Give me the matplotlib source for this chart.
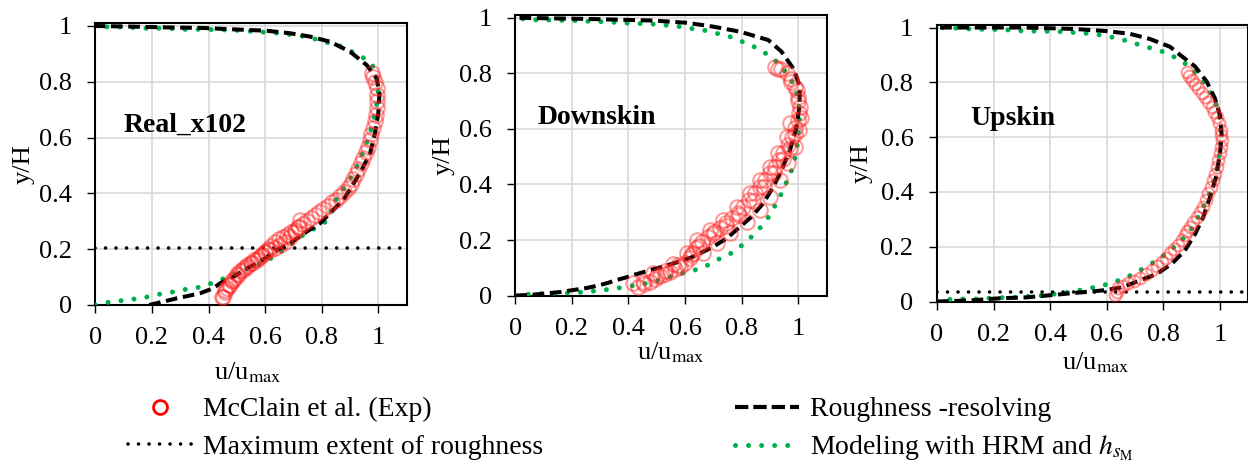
import numpy as np
import matplotlib.pyplot as plt
from matplotlib.lines import Line2D
from matplotlib import rcParams
rcParams['font.family'] = ['Liberation Serif', 'DejaVu Serif']
rcParams['mathtext.fontset'] = 'stix'

# ---- data (x = u/umax, y = y/H) ----
# Real_x102
exp1_x = [0.452, 0.458, 0.466, 0.474, 0.482, 0.492, 0.502, 0.511, 0.525, 0.537, 0.549, 0.562,
          0.574, 0.586, 0.598, 0.610, 0.622, 0.636, 0.650, 0.664, 0.678, 0.692, 0.706, 0.720,
          0.734, 0.748, 0.762, 0.776, 0.790, 0.806, 0.822, 0.838, 0.852, 0.866, 0.880, 0.892,
          0.902, 0.912, 0.921, 0.930, 0.939, 0.947, 0.955, 0.962, 0.969, 0.975, 0.981, 0.987,
          0.992, 0.995, 0.997, 0.997, 0.995, 0.990, 0.983, 0.976,
          0.447, 0.458, 0.476, 0.488, 0.505, 0.523, 0.535, 0.553, 0.570, 0.588, 0.600, 0.617,
          0.635, 0.653, 0.670, 0.688, 0.706, 0.717, 0.723]
exp1_y = [0.030, 0.045, 0.060, 0.072, 0.085, 0.098, 0.110, 0.121, 0.134, 0.143, 0.152, 0.160,
          0.168, 0.177, 0.189, 0.201, 0.213, 0.225, 0.236, 0.245, 0.252, 0.260, 0.269, 0.280,
          0.292, 0.302, 0.312, 0.323, 0.335, 0.345, 0.356, 0.368, 0.378, 0.390, 0.404, 0.418,
          0.434, 0.452, 0.470, 0.488, 0.508, 0.528, 0.548, 0.568, 0.590, 0.612, 0.634, 0.658,
          0.682, 0.706, 0.730, 0.754, 0.778, 0.800, 0.818, 0.832,
          0.030, 0.054, 0.072, 0.090, 0.108, 0.125, 0.137, 0.149, 0.161, 0.179, 0.191, 0.197,
          0.203, 0.215, 0.227, 0.245, 0.263, 0.281, 0.305]
res1_x = [0.190, 0.240, 0.288, 0.330, 0.370, 0.417, 0.441, 0.465, 0.488, 0.535, 0.582, 0.641,
          0.688, 0.747, 0.794, 0.841, 0.876, 0.906, 0.941, 0.971, 0.988, 1.000, 1.004, 0.994,
          0.959, 0.900, 0.829, 0.759, 0.688, 0.606, 0.488, 0.380, 0.252, 0.120, 0.000]
res1_y = [0.000, 0.012, 0.024, 0.033, 0.042, 0.060, 0.078, 0.090, 0.101, 0.131, 0.155, 0.197,
          0.221, 0.263, 0.293, 0.341, 0.376, 0.424, 0.484, 0.544, 0.615, 0.687, 0.759, 0.813,
          0.860, 0.908, 0.944, 0.962, 0.974, 0.983, 0.988, 0.993, 0.995, 0.998, 1.000]
mod1_x = [0.000, 0.017, 0.064, 0.111, 0.158, 0.199, 0.241, 0.282, 0.323, 0.370, 0.411, 0.447,
          0.490, 0.530, 0.570, 0.611, 0.647, 0.682, 0.717, 0.754, 0.788, 0.823, 0.832, 0.843,
          0.865, 0.890, 0.912, 0.933, 0.949, 0.965, 0.977, 0.988, 0.996, 1.000, 0.994, 0.977,
          0.941, 0.906, 0.865, 0.823, 0.782, 0.741, 0.700, 0.653, 0.564, 0.523, 0.476, 0.435,
          0.394, 0.347, 0.300, 0.252, 0.211, 0.170, 0.123, 0.076, 0.034, 0.000]
mod1_y = [0.000, 0.006, 0.012, 0.018, 0.024, 0.032, 0.042, 0.048, 0.057, 0.064, 0.078, 0.092,
          0.110, 0.127, 0.143, 0.161, 0.185, 0.209, 0.239, 0.263, 0.281, 0.305, 0.335, 0.365,
          0.400, 0.436, 0.472, 0.514, 0.556, 0.597, 0.639, 0.687, 0.729, 0.771, 0.818, 0.866,
          0.890, 0.908, 0.928, 0.940, 0.952, 0.962, 0.968, 0.974, 0.980, 0.983, 0.986, 0.986,
          0.988, 0.988, 0.988, 0.992, 0.992, 0.992, 0.995, 0.997, 0.997, 1.000]
ext1 = 0.205

# Downskin
exp2_x = [0.435, 0.455, 0.476, 0.494, 0.511, 0.529, 0.547, 0.565, 0.582, 0.600, 0.617, 0.628,
          0.638, 0.660, 0.682, 0.702, 0.723, 0.744, 0.765, 0.786, 0.806, 0.826, 0.847, 0.865,
          0.882, 0.900, 0.917, 0.932, 0.947, 0.962, 0.977, 0.990, 1.000, 1.004, 1.006, 0.999,
          0.988, 0.975, 0.959, 0.940, 0.918,
          0.641, 0.688, 0.735, 0.782, 0.829, 0.865, 0.900, 0.929, 0.959, 0.971,
          0.664, 0.712, 0.759, 0.818, 0.865, 0.900, 0.935, 0.965, 0.988, 1.004,
          0.417, 0.488, 0.558, 0.606,
          0.450, 0.500, 0.530, 0.575, 0.620, 0.650, 0.700, 0.745, 0.790, 0.840,
          0.880, 0.915, 0.945, 0.970, 0.990, 1.010, 1.000, 0.995, 0.975, 0.930]
exp2_y = [0.030, 0.040, 0.050, 0.061, 0.071, 0.079, 0.086, 0.095, 0.104, 0.119, 0.134, 0.152,
          0.172, 0.192, 0.212, 0.228, 0.242, 0.260, 0.278, 0.299, 0.320, 0.344, 0.368, 0.392,
          0.416, 0.440, 0.464, 0.488, 0.512, 0.542, 0.572, 0.602, 0.632, 0.656, 0.680, 0.716,
          0.752, 0.778, 0.800, 0.814, 0.824,
          0.200, 0.236, 0.272, 0.320, 0.368, 0.416, 0.464, 0.512, 0.572, 0.620,
          0.152, 0.188, 0.224, 0.266, 0.308, 0.356, 0.416, 0.476, 0.536, 0.596,
          0.044, 0.080, 0.114, 0.152,
          0.050, 0.070, 0.090, 0.110, 0.145, 0.180, 0.220, 0.250, 0.290, 0.340,
          0.390, 0.440, 0.490, 0.530, 0.580, 0.640, 0.700, 0.740, 0.770, 0.815]
res2_x = [0.000, 0.060, 0.111, 0.160, 0.205, 0.250, 0.288, 0.325, 0.358, 0.390, 0.417, 0.455,
          0.488, 0.525, 0.559, 0.595, 0.629, 0.653, 0.700, 0.747, 0.788, 0.835, 0.876, 0.912,
          0.941, 0.971, 0.994, 1.004, 1.006, 0.982, 0.941, 0.894, 0.794, 0.700, 0.606, 0.488,
          0.252, 0.000]
res2_y = [0.000, 0.003, 0.008, 0.013, 0.020, 0.027, 0.035, 0.045, 0.056, 0.065, 0.074, 0.085,
          0.095, 0.105, 0.116, 0.128, 0.140, 0.152, 0.176, 0.206, 0.242, 0.284, 0.332, 0.392,
          0.452, 0.524, 0.608, 0.680, 0.752, 0.818, 0.878, 0.920, 0.950, 0.968, 0.982, 0.990,
          0.996, 1.000]
mod2_x = [0.000, 0.028, 0.076, 0.118, 0.158, 0.199, 0.246, 0.293, 0.335, 0.382, 0.429, 0.476,
          0.518, 0.558, 0.596, 0.629, 0.670, 0.712, 0.753, 0.788, 0.823, 0.853, 0.879, 0.900,
          0.921, 0.941, 0.959, 0.977, 0.988, 0.996, 1.000, 1.004, 1.004, 1.000, 0.982, 0.959,
          0.929, 0.900, 0.859, 0.823, 0.782, 0.759, 0.712, 0.664, 0.617, 0.570, 0.523, 0.476,
          0.417, 0.370, 0.323, 0.276, 0.229, 0.182, 0.135, 0.076, 0.028, 0.000]
mod2_y = [0.000, 0.004, 0.006, 0.008, 0.009, 0.010, 0.013, 0.018, 0.023, 0.030, 0.038, 0.046,
          0.058, 0.071, 0.082, 0.090, 0.104, 0.128, 0.146, 0.170, 0.200, 0.230, 0.260, 0.290,
          0.330, 0.368, 0.410, 0.452, 0.494, 0.536, 0.578, 0.626, 0.668, 0.710, 0.764, 0.800,
          0.836, 0.863, 0.887, 0.908, 0.920, 0.932, 0.944, 0.956, 0.962, 0.970, 0.974, 0.978,
          0.980, 0.982, 0.986, 0.986, 0.990, 0.990, 0.992, 0.992, 0.996, 1.000]

# Upskin
exp3_x = [0.629, 0.635, 0.641, 0.658, 0.676, 0.697, 0.717, 0.738, 0.759, 0.776, 0.794, 0.808,
          0.823, 0.838, 0.853, 0.865, 0.876, 0.885, 0.894, 0.906, 0.918, 0.930, 0.941, 0.950,
          0.959, 0.968, 0.976, 0.982, 0.988, 0.994, 1.000, 1.004, 1.006, 1.004, 1.002, 0.995,
          0.988, 0.980, 0.971, 0.959, 0.947, 0.935, 0.923, 0.911, 0.900, 0.891, 0.882]
exp3_y = [0.024, 0.036, 0.048, 0.057, 0.066, 0.075, 0.085, 0.100, 0.115, 0.130, 0.145, 0.160,
          0.176, 0.191, 0.206, 0.224, 0.243, 0.258, 0.273, 0.291, 0.309, 0.327, 0.346, 0.370,
          0.395, 0.419, 0.443, 0.467, 0.492, 0.516, 0.541, 0.565, 0.589, 0.608, 0.626, 0.650,
          0.674, 0.692, 0.711, 0.729, 0.747, 0.762, 0.778, 0.793, 0.808, 0.824, 0.839]
res3_x = [0.000, 0.120, 0.223, 0.317, 0.411, 0.494, 0.541, 0.600, 0.658, 0.717, 0.776, 0.829,
          0.876, 0.912, 0.941, 0.965, 0.986, 1.000, 1.006, 1.000, 0.982, 0.953, 0.912, 0.859,
          0.823, 0.753, 0.682, 0.600, 0.482, 0.306, 0.000]
res3_y = [0.000, 0.004, 0.012, 0.015, 0.024, 0.032, 0.036, 0.042, 0.053, 0.077, 0.100, 0.137,
          0.186, 0.246, 0.308, 0.381, 0.454, 0.540, 0.608, 0.681, 0.742, 0.803, 0.858, 0.900,
          0.930, 0.958, 0.977, 0.987, 0.995, 1.000, 1.000]
mod3_x = [0.000, 0.047, 0.094, 0.141, 0.182, 0.223, 0.265, 0.306, 0.353, 0.394, 0.435, 0.482,
          0.529, 0.570, 0.611, 0.653, 0.694, 0.729, 0.759, 0.788, 0.817, 0.847, 0.876, 0.900,
          0.920, 0.941, 0.959, 0.974, 0.986, 0.994, 1.000, 1.002, 1.002, 0.994, 0.982, 0.959,
          0.935, 0.900, 0.870, 0.829, 0.788, 0.759, 0.717, 0.670, 0.623, 0.576, 0.529, 0.482,
          0.441, 0.400, 0.353, 0.312, 0.270, 0.223, 0.182, 0.141, 0.094, 0.053, 0.000]
mod3_y = [0.000, 0.008, 0.009, 0.009, 0.012, 0.014, 0.014, 0.018, 0.020, 0.024, 0.030, 0.036,
          0.047, 0.054, 0.066, 0.081, 0.100, 0.121, 0.139, 0.157, 0.181, 0.206, 0.236, 0.266,
          0.303, 0.345, 0.381, 0.424, 0.467, 0.509, 0.552, 0.601, 0.644, 0.692, 0.735, 0.777,
          0.814, 0.850, 0.874, 0.898, 0.916, 0.924, 0.936, 0.952, 0.964, 0.973, 0.979, 0.982,
          0.985, 0.986, 0.987, 0.987, 0.990, 0.993, 0.993, 0.994, 0.996, 0.999, 1.000]
ext3 = 0.035

panels = [
    dict(name="Real_x102", exp=(exp1_x, exp1_y), res=(res1_x, res1_y), mod=(mod1_x, mod1_y),
         ext=ext1, rect=[0.0764, 0.3455, 0.2494, 0.6047], txt=(0.10, 0.646), ms=10.5,
         ylab=(-0.195, 0.50), xlab=(0.49, -0.195)),
    dict(name="Downskin", exp=(exp2_x, exp2_y), res=(res2_x, res2_y), mod=(mod2_x, mod2_y),
         ext=None, rect=[0.4129, 0.3657, 0.2494, 0.6021], txt=(0.08, 0.64), ms=10.5,
         ylab=(-0.196, 0.50), xlab=(0.50, -0.16)),
    dict(name="Upskin", exp=(exp3_x, exp3_y), res=(res3_x, res3_y), mod=(mod3_x, mod3_y),
         ext=ext3, rect=[0.7508, 0.3530, 0.2494, 0.5938], txt=(0.117, 0.667), ms=8.5,
         ylab=(-0.206, 0.50), xlab=(0.51, -0.175)),
]

red = '#ff2020'
green = '#00b050'
dash_style = (0, (2.9, 1.4))
dot_green = (0, (0.01, 2.6))
dot_black = (0, (0.01, 2.9))

fig = plt.figure(figsize=(12.48, 4.66), dpi=100)

for p in panels:
    ax = fig.add_axes(p['rect'])
    ax.set_xlim(0, 1.1)
    ax.set_ylim(0, 1.01)
    ax.set_xticks([0, 0.2, 0.4, 0.6, 0.8, 1.0])
    ax.set_xticklabels(["0", "0.2", "0.4", "0.6", "0.8", "1"])
    ax.set_yticks([0, 0.2, 0.4, 0.6, 0.8, 1.0])
    ax.set_yticklabels(["0", "0.2", "0.4", "0.6", "0.8", "1"])
    ax.grid(True, color='#d9d9d9', lw=1.2, zorder=0)
    ax.set_axisbelow(True)
    for s in ax.spines.values():
        s.set_linewidth(1.5)
        s.set_color('black')
    ax.tick_params(axis='both', direction='out', length=6, width=1, labelsize=19)
    ax.tick_params(axis='x', pad=10)
    ax.tick_params(axis='y', pad=11)

    ax.plot(*p['mod'], color=green, lw=3.6, ls=dot_green, dash_capstyle='round', zorder=3)
    ax.plot(*p['res'], color='black', lw=2.9, ls=dash_style, zorder=4)
    if p['ext'] is not None:
        ax.axhline(p['ext'], color='black', lw=2.6, ls=dot_black, dash_capstyle='round', zorder=4)
    ax.plot(*p['exp'], ls='none', marker='o', ms=p['ms'], mfc='none', mec=red,
            mew=1.5, alpha=0.45, zorder=5)

    ax.text(p['txt'][0], p['txt'][1], p['name'], fontsize=20, fontweight='bold',
            ha='left', va='center', zorder=6)
    ax.set_ylabel("y/H", fontsize=19)
    ax.yaxis.set_label_coords(*p['ylab'])
    ax.set_xlabel("u/u$_{\\mathrm{max}}$", fontsize=19)
    ax.xaxis.set_label_coords(*p['xlab'])

handles = [
    Line2D([], [], ls='none', marker='o', ms=10, mfc='none', mec='red', mew=2),
    Line2D([], [], color='black', lw=2.6, ls=dot_black, dash_capstyle='round'),
    Line2D([], [], color='black', lw=3, ls=(0, (3.2, 1.2))),
    Line2D([], [], color=green, lw=3.6, ls=dot_green, dash_capstyle='round'),
]
labels = ["McClain et al. (Exp)", "Maximum extent of roughness",
          "Roughness -resolving", "Modeling with HRM and $h_{s_{\\mathrm{M}}}$"]
fig.legend(handles, labels, loc='upper left', bbox_to_anchor=(128 / 1248, 1 - 397 / 466),
           ncol=2, frameon=False, fontsize=20, handlelength=2.3, handletextpad=0.4,
           columnspacing=6.9, labelspacing=0.42, borderpad=0, borderaxespad=0)

plt.savefig("out.png", dpi=100)
